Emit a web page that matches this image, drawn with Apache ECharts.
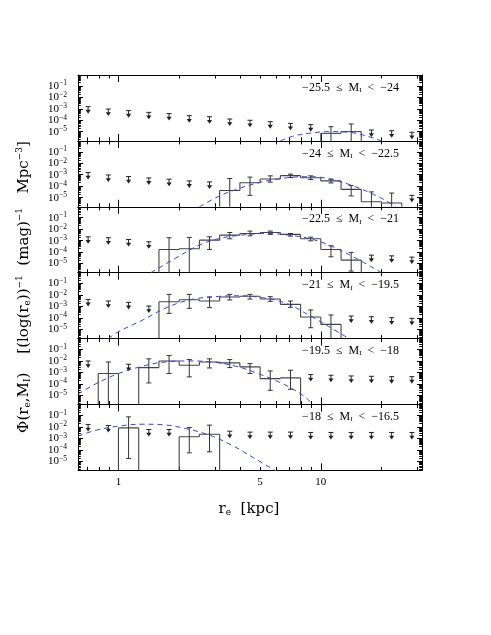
<!DOCTYPE html>
<html>
<head>
<meta charset="utf-8">
<style>
  html, body { margin: 0; padding: 0; background: #fff; }
  #chart { width: 491px; height: 635px; }
</style>
</head>
<body>
<div id="chart"></div>
<script src="https://cdn.jsdelivr.net/npm/echarts@6/dist/echarts.min.js"></script>
<script>
// bin centres in log10(r_e / kpc), bins are 0.1 dex wide
var binCentres = [-0.15, -0.05, 0.05, 0.15, 0.25, 0.35, 0.45, 0.55, 0.65, 0.75, 0.85, 0.95, 1.05, 1.15, 1.25, 1.35, 1.45];

// tick marks / labels
var xMajorTicks = [1, 10];
var xMinorTicks = [0.7, 0.8, 0.9, 2, 3, 4, 5, 6, 7, 8, 9, 20, 30];
var xTickLabels = [1, 5, 10];
var yTickExponents = [-1, -2, -3, -4, -5];

// magnitude ranges, one per panel
var panelLabels = [['−25.5', '−24'], ['−24', '−22.5'], ['−22.5', '−21'], ['−21', '−19.5'], ['−19.5', '−18'], ['−18', '−16.5']];

// everything below is log10(Phi); null = no entry in that bin
// panel 1: -25.5 <= M_I < -24
var lim1 = [-2.81, -3.02, -3.16, -3.31, -3.42, -3.60, -3.69, -3.89, -4.00, -4.12, -4.27, -4.38, null, null, -4.85, -4.91, -5.05];
var hist1 = [null, null, null, null, null, null, null, null, null, null, null, null, -5.14, -4.99, null, null, null];
var errUp1 = [null, null, null, null, null, null, null, null, null, null, null, null, -4.56, -4.32, null, null, null];
var errLo1 = [null, null, null, null, null, null, null, null, null, null, null, null, null, null, null, null, null];
var fit1 = [[0.80, -5.8], [0.86, -5.4], [0.94, -5.14], [1.04, -4.99], [1.14, -5.05], [1.22, -5.34], [1.30, -5.8]];

// panel 2: -24 <= M_I < -22.5
var lim2 = [-2.81, -3.02, -3.16, -3.28, -3.39, -3.54, -3.63, null, null, null, null, null, null, null, null, null, -4.8];
var hist2 = [null, null, null, null, null, null, null, -4.38, -3.70, -3.37, -3.08, -3.26, -3.54, -4.28, -5.36, -5.47, null];
var errUp2 = [null, null, null, null, null, null, null, -3.33, -3.21, -3.10, -2.95, -3.10, -3.39, -3.95, -4.50, -4.60, null];
var errLo2 = [null, null, null, null, null, null, null, null, -4.80, -3.65, -3.25, -3.42, -3.72, -4.85, null, null, null];
var fit2 = [[0.40, -5.8], [0.50, -4.85], [0.58, -4.3], [0.68, -3.75], [0.78, -3.4], [0.86, -3.22], [0.94, -3.17], [1.04, -3.35], [1.14, -3.85], [1.24, -4.55], [1.32, -5.25], [1.37, -5.8]];

// panel 3: -22.5 <= M_I < -21
var lim3 = [-2.67, -2.75, -2.90, -3.10, null, null, null, null, null, null, null, null, null, null, -4.27, -4.33, -4.44];
var hist3 = [null, null, null, null, -3.77, -3.71, -2.96, -2.52, -2.38, -2.29, -2.46, -2.84, -3.77, -4.70, null, null, null];
var errUp3 = [null, null, null, null, -2.75, -2.72, -2.67, -2.29, -2.17, -2.17, -2.38, -2.70, -3.45, -4.03, null, null, null];
var errLo3 = [null, null, null, null, null, null, -3.77, -2.84, -2.58, -2.46, -2.61, -3.02, -4.41, -5.66, null, null, null];
var fit3 = [[0.16, -5.8], [0.28, -4.56], [0.40, -3.39], [0.50, -2.81], [0.61, -2.52], [0.73, -2.38], [0.84, -2.52], [0.94, -2.81], [1.04, -3.39], [1.16, -4.41], [1.30, -5.8]];

// panel 4: -21 <= M_I < -19.5
var lim4 = [-2.38, -2.52, -2.64, -2.96, null, null, null, null, null, null, null, null, null, -3.83, -3.89, -3.98, -4.03];
var hist4 = [null, null, null, null, -2.58, -2.41, -2.52, -2.17, -2.11, -2.35, -2.81, -3.92, -4.56, null, null, null, null];
var errUp4 = [null, null, null, null, -1.94, -1.94, -2.17, -1.94, -1.94, -2.14, -2.52, -3.30, -3.74, null, null, null, null];
var errLo4 = [null, null, null, null, -3.60, -3.16, -3.10, -2.43, -2.35, -2.55, -3.07, -4.85, null, null, null, null, null];
var fit4 = [[-0.05, -5.8], [0.00, -5.2], [0.12, -4.18], [0.23, -3.16], [0.35, -2.43], [0.48, -2.14], [0.60, -2.06], [0.71, -2.23], [0.83, -2.73], [0.94, -3.74], [1.04, -4.76], [1.14, -5.8]];

// panel 5: -19.5 <= M_I < -18
var lim5 = [-2.00, null, -2.29, null, null, null, null, null, null, null, null, -3.19, -3.25, -3.31, -3.34, -3.37, -3.37];
var hist5 = [null, -3.10, null, -2.58, -2.00, -2.38, -2.09, -2.17, -2.52, -3.54, -3.48, null, null, null, null, null, null];
var errUp5 = [null, -2.09, null, -1.82, -1.53, -1.88, -1.82, -1.88, -2.23, -2.87, -2.81, null, null, null, null, null, null];
var errLo5 = [null, null, null, -3.92, -3.10, -3.39, -2.61, -2.58, -3.10, -4.56, -4.47, null, null, null, null, null, null];
var fit5 = [[-0.20, -4.9], [-0.11, -3.98], [0.00, -3.10], [0.12, -2.46], [0.23, -2.09], [0.35, -2.0], [0.46, -2.09], [0.58, -2.46], [0.69, -3.10], [0.81, -3.98], [0.91, -4.99], [0.96, -5.8]];

// panel 6: -18 <= M_I < -16.5
var lim6 = [-1.79, -1.88, null, -2.23, -2.23, null, null, -2.38, -2.46, -2.46, -2.46, -2.49, -2.49, -2.49, -2.49, -2.49, -2.49];
var hist6 = [null, null, -2.09, null, null, -2.87, -2.64, null, null, null, null, null, null, null, null, null, null];
var errUp6 = [null, null, -1.13, null, null, -2.06, -1.85, null, null, null, null, null, null, null, null, null, null];
var errLo6 = [null, null, -4.76, null, null, -4.27, -4.18, null, null, null, null, null, null, null, null, null, null];
var fit6 = [[-0.20, -2.81], [-0.11, -2.29], [0.00, -1.94], [0.12, -1.77], [0.22, -1.82], [0.33, -2.14], [0.45, -2.73], [0.56, -3.60], [0.66, -4.62], [0.78, -5.87]];

var panels = [
    {lim: lim1, hist: hist1, up: errUp1, lo: errLo1, fit: fit1},
    {lim: lim2, hist: hist2, up: errUp2, lo: errLo2, fit: fit2},
    {lim: lim3, hist: hist3, up: errUp3, lo: errLo3, fit: fit3},
    {lim: lim4, hist: hist4, up: errUp4, lo: errLo4, fit: fit4},
    {lim: lim5, hist: hist5, up: errUp5, lo: errLo5, fit: fit5},
    {lim: lim6, hist: hist6, up: errUp6, lo: errLo6, fit: fit6}
];

var xMin = -0.2, xMax = 1.5, yMin = -5.8, yMax = -0.05;
var gridLeft = 78, gridWidth = 344, gridTop0 = 75, gridH = 65.9;
var serif = '"Liberation Serif", "DejaVu Serif", serif';
var wideSerif = '"DejaVu Serif", serif';
var halfBin = 0.05;

function log10(v) { return Math.log(v) / Math.LN10; }

var yMinor = [];
for (var n = -6; n <= -1; n++) {
    for (var m = 2; m <= 9; m++) {
        var t = n + log10(m);
        if (t > yMin && t < yMax) yMinor.push(t);
    }
}
// labels split over two axes so ECharts keeps all of them
var yLabelsOdd = yTickExponents.filter(function (e, i) { return i % 2 === 0; });
var yLabelsEven = yTickExponents.filter(function (e, i) { return i % 2 === 1; });

var grids = [], xAxes = [], yAxes = [], series = [], graphics = [];
function frame(show) {
    return {show: show, onZero: false, lineStyle: {color: '#000', width: 1}};
}
function yLabel(show, values) {
    return {
        show: show,
        customValues: values,
        interval: 0,
        formatter: function (v) { return '{b|10}{s|' + String(Math.round(v)).replace('-', '−') + '}'; },
        margin: 11,
        rich: {
            b: {fontFamily: serif, fontSize: 11, color: '#000'},
            s: {fontFamily: serif, fontSize: 7.5, color: '#000', padding: [0, 0, 5, 0]}
        }
    };
}

panels.forEach(function (p, i) {
    var top = gridTop0 + gridH * i;
    grids.push({left: gridLeft, top: top, width: gridWidth, height: gridH});

    // x axes: bottom major, bottom minor, top major, top minor
    [['bottom', 7, xMajorTicks, true], ['bottom', 3.5, xMinorTicks, false],
     ['top', 7, xMajorTicks, true], ['top', 3.5, xMinorTicks, false]].forEach(function (a, j) {
        xAxes.push({
            gridIndex: i, type: 'value', position: a[0], min: xMin, max: xMax,
            axisLine: frame(a[3]),
            splitLine: {show: false},
            axisTick: {show: true, inside: true, length: a[1], lineStyle: {color: '#000'},
                customValues: a[2].map(log10)},
            axisLabel: {
                show: i === panels.length - 1 && j === 0,
                customValues: xTickLabels.map(log10),
                interval: 0,
                formatter: function (v) { return String(Math.round(Math.pow(10, v))); },
                fontFamily: serif, fontSize: 11, color: '#000', margin: 6
            }
        });
    });

    // y axes: left major, left minor, right major, right minor
    [['left', 5, yTickExponents, true, yLabelsOdd], ['left', 2.8, yMinor, false, yLabelsEven],
     ['right', 5, yTickExponents, true, null], ['right', 2.8, yMinor, false, null]].forEach(function (a) {
        yAxes.push({
            gridIndex: i, type: 'value', position: a[0], min: yMin, max: yMax,
            axisLine: frame(a[3]),
            splitLine: {show: false},
            axisTick: {show: true, inside: true, length: a[1], lineStyle: {color: '#000'},
                customValues: a[2]},
            axisLabel: yLabel(a[4] !== null, a[4] || yTickExponents)
        });
    });

    var xi = i * 4, yi = i * 4;

    // histogram outline
    var histData = [];
    p.hist.forEach(function (h, k) { if (h != null) histData.push([binCentres[k], h, k]); });
    series.push({
        type: 'custom', xAxisIndex: xi, yAxisIndex: yi, clip: true, silent: true,
        data: histData, encode: {x: 0, y: 1},
        renderItem: function (params, api) {
            var k = api.value(2), h = p.hist[k], c = binCentres[k];
            var prev = k > 0 ? p.hist[k - 1] : null;
            var next = k < p.hist.length - 1 ? p.hist[k + 1] : null;
            var tl = api.coord([c - halfBin, h]), tr = api.coord([c + halfBin, h]);
            var bl = api.coord([c - halfBin, prev != null ? prev : yMin]);
            var st = {stroke: '#444', lineWidth: 1.1};
            var ch = [
                {type: 'line', shape: {x1: tl[0], y1: tl[1], x2: tr[0], y2: tr[1]}, style: st},
                {type: 'line', shape: {x1: bl[0], y1: bl[1], x2: tl[0], y2: tl[1]}, style: st}
            ];
            if (next == null) {
                var br = api.coord([c + halfBin, yMin]);
                ch.push({type: 'line', shape: {x1: tr[0], y1: tr[1], x2: br[0], y2: br[1]}, style: st});
            }
            return {type: 'group', children: ch};
        }
    });

    // error bars
    series.push({
        type: 'custom', xAxisIndex: xi, yAxisIndex: yi, clip: true, silent: true,
        data: histData, encode: {x: 0, y: 1},
        renderItem: function (params, api) {
            var k = api.value(2), c = binCentres[k];
            var hi = api.coord([c, p.up[k]]);
            var lo = api.coord([c, p.lo[k] != null ? p.lo[k] : yMin - 1]);
            var st = {stroke: '#333', lineWidth: 1};
            var ch = [
                {type: 'line', shape: {x1: hi[0], y1: hi[1], x2: lo[0], y2: lo[1]}, style: st},
                {type: 'line', shape: {x1: hi[0] - 2.5, y1: hi[1], x2: hi[0] + 2.5, y2: hi[1]}, style: st}
            ];
            if (p.lo[k] != null) {
                ch.push({type: 'line', shape: {x1: lo[0] - 2.5, y1: lo[1], x2: lo[0] + 2.5, y2: lo[1]}, style: st});
            }
            return {type: 'group', children: ch};
        }
    });

    // upper limits
    var limData = [];
    p.lim.forEach(function (v, k) { if (v != null) limData.push([binCentres[k], v]); });
    series.push({
        type: 'custom', xAxisIndex: xi, yAxisIndex: yi, clip: true, silent: true,
        data: limData, encode: {x: 0, y: 1},
        renderItem: function (params, api) {
            var pt = api.coord([api.value(0), api.value(1)]);
            var x = pt[0], y = pt[1];
            var st = {stroke: '#222', lineWidth: 1};
            return {type: 'group', children: [
                {type: 'line', shape: {x1: x - 2.5, y1: y, x2: x + 2.5, y2: y}, style: st},
                {type: 'line', shape: {x1: x, y1: y, x2: x, y2: y + 4}, style: st},
                {type: 'polygon', shape: {points: [[x - 2.6, y + 3.2], [x + 2.6, y + 3.2], [x, y + 7]]},
                    style: {fill: '#222'}}
            ]};
        }
    });

    // fitted curve
    series.push({
        type: 'line', xAxisIndex: xi, yAxisIndex: yi, clip: true, silent: true,
        data: p.fit, smooth: 0.4, showSymbol: false,
        lineStyle: {color: '#3b3bf5', width: 1, type: [5, 4]}
    });

    // panel label
    graphics.push({
        type: 'text', x: 399, y: top + 12.5, silent: true,
        style: {
            text: '{t|' + panelLabels[i][0] + '  ≤  M}{u|I}{t|  <  ' + panelLabels[i][1] + '}',
            align: 'right', verticalAlign: 'middle',
            rich: {
                t: {fontFamily: serif, fontSize: 12, fill: '#000'},
                u: {fontFamily: serif, fontSize: 7, fill: '#000', padding: [5, 0, 0, 0]}
            }
        }
    });
});

// axis titles
graphics.push({
    type: 'text', x: 249, y: 509, silent: true,
    style: {
        text: '{t|r}{u|e}{t|  [kpc]}', align: 'center', verticalAlign: 'middle',
        rich: {
            t: {fontFamily: wideSerif, fontSize: 15, fill: '#000'},
            u: {fontFamily: wideSerif, fontSize: 9, fill: '#000', padding: [7, 0, 0, 0]}
        }
    }
});
graphics.push({
    type: 'text', x: 24, y: 287, rotation: Math.PI / 2, silent: true,
    style: {
        text: '{t|Φ(r}{u|e}{t|,M}{u|I}{t|)    [(log(r}{u|e}{t|))}{s|−1}{t|  (mag)}{s|−1}{t|   Mpc}{s|−3}{t|]}',
        align: 'center', verticalAlign: 'middle',
        rich: {
            t: {fontFamily: wideSerif, fontSize: 15, fill: '#000'},
            u: {fontFamily: wideSerif, fontSize: 9, fill: '#000', padding: [7, 0, 0, 0]},
            s: {fontFamily: wideSerif, fontSize: 9, fill: '#000', padding: [0, 0, 8, 0]}
        }
    }
});

var chart = echarts.init(document.getElementById('chart'), null, {renderer: 'canvas'});
chart.setOption({
    backgroundColor: '#fff',
    animation: false,
    grid: grids,
    xAxis: xAxes,
    yAxis: yAxes,
    series: series,
    graphic: graphics
});
</script>
</body>
</html>
